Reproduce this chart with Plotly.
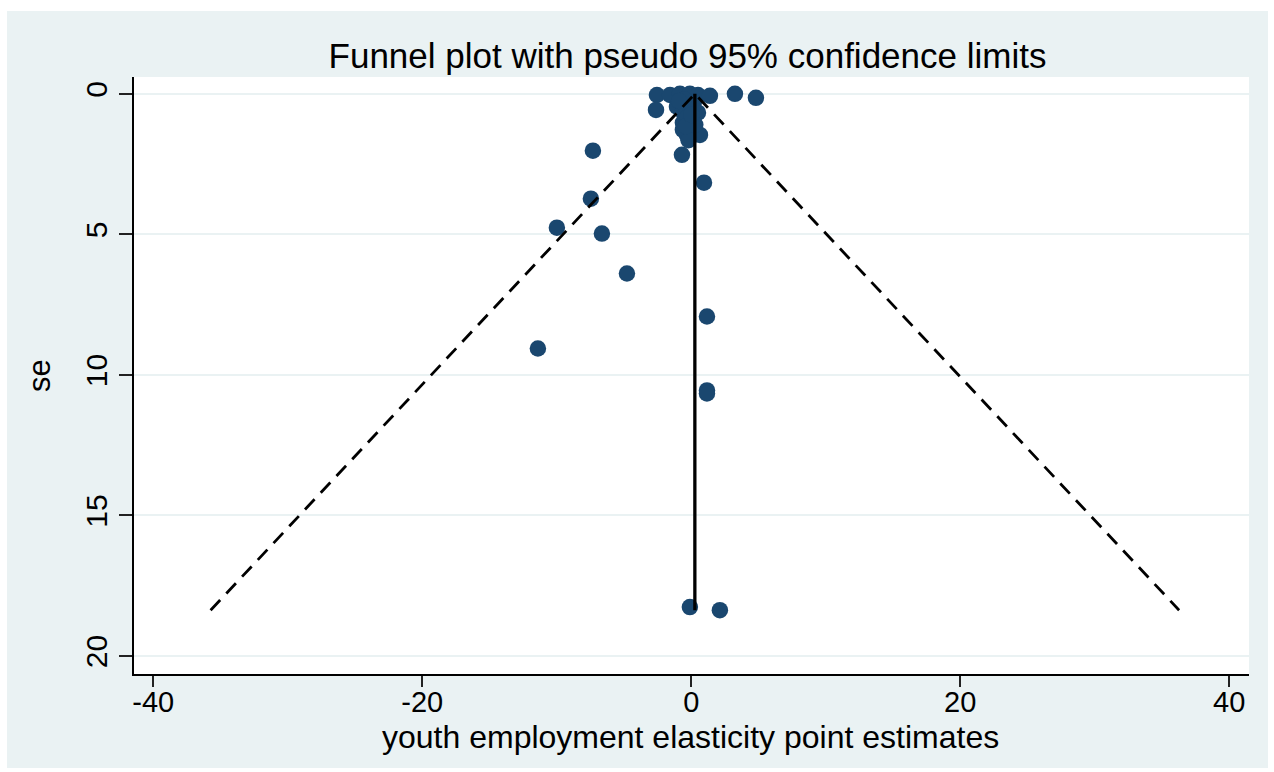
import plotly.graph_objects as go

# Point estimates (youth employment elasticities) and their standard errors
estimates = [-2.55, -2.62, -1.58, -0.84, -0.10, 0.50, 1.39, 3.25, 4.81,
             -1.06, -0.62, 0.50, -0.62, -0.62, -0.32, 0.65, -0.69,
             -7.31, 0.95, -7.46, -9.99, -6.64, -4.78, 1.17, -11.40,
             1.17, 1.17, -0.10, 2.13, -0.30, 0.20, -0.50,
             -0.90, 0.10, -0.20, 0.30, -0.40, 0.00]
std_errors = [0.04, 0.57, 0.04, 0.00, 0.00, 0.04, 0.07, 0.00, 0.14,
              0.46, 0.64, 0.67, 1.03, 1.28, 1.46, 1.46, 2.17,
              2.02, 3.16, 3.73, 4.76, 4.97, 6.39, 7.92, 9.06,
              10.55, 10.66, 18.26, 18.37, 0.85, 0.30, 0.20,
              0.25, 0.45, 1.65, 1.10, 1.15, 0.75]
pooled_estimate = 0.27
z95 = 1.96

x_ticks = [-40, -20, 0, 20, 40]
y_ticks = [0, 5, 10, 15, 20]

title_text = "Funnel plot with pseudo 95% confidence limits"
x_title = "youth employment elasticity point estimates"
y_title = "se"

max_se = max(std_errors)
FONT = "Liberation Sans, Arial, sans-serif"
NAVY = "#1A476F"
BG = "#EAF2F3"

fig = go.Figure()
fig.add_trace(go.Scatter(
    x=estimates, y=std_errors, mode="markers",
    marker=dict(color=NAVY, size=16.5, line=dict(width=0)),
    showlegend=False, hoverinfo="x+y"))
# funnel limits
fig.add_trace(go.Scatter(
    x=[pooled_estimate - z95 * max_se, pooled_estimate, pooled_estimate + z95 * max_se],
    y=[max_se, 0, max_se], mode="lines",
    line=dict(color="black", width=2.8, dash="14px,9px"),
    showlegend=False, hoverinfo="skip"))
# pooled estimate line
fig.add_trace(go.Scatter(
    x=[pooled_estimate, pooled_estimate], y=[0, max_se], mode="lines",
    line=dict(color="black", width=3.3),
    showlegend=False, hoverinfo="skip"))

W, H = 1274, 772
# white outer border strips
for (x0, x1, y0, y1) in [(0, 7, 0, H), (1268, W, 0, H), (0, W, 0, 11), (0, W, 768, H)]:
    fig.add_shape(type="rect", xref="paper", yref="paper", layer="below",
                  x0=(x0 - 134) / 1115, x1=(x1 - 134) / 1115,
                  y0=(674 - y1) / 597, y1=(674 - y0) / 597,
                  fillcolor="white", line=dict(width=0))

# x axis title placed precisely
fig.add_annotation(text=x_title, xref="paper", yref="paper",
                   x=(690 - 134) / 1115, y=(674 - 737) / 597,
                   xanchor="center", yanchor="middle", showarrow=False,
                   font=dict(size=32, family=FONT, color="black"))

fig.update_layout(
    width=W, height=H,
    margin=dict(l=134, r=25, t=77, b=98),
    paper_bgcolor=BG, plot_bgcolor="white",
    font=dict(family=FONT, color="black", size=30),
    title=dict(text=title_text, x=687.5 / W, xref="container", xanchor="center",
               y=1 - 56 / H, yref="container", yanchor="middle",
               font=dict(size=35, family=FONT, color="black")),
    showlegend=False,
)
fig.update_xaxes(
    range=[-41.43, 41.47], tickvals=x_ticks, ticktext=[str(v) for v in x_ticks],
    showgrid=False, zeroline=False, showline=True, linecolor="black", linewidth=1.5,
    ticks="outside", ticklen=11, tickwidth=1.5, tickcolor="#222222",
    ticklabelstandoff=-10,
    tickfont=dict(size=29, family=FONT))
fig.update_yaxes(
    range=[20.64, -0.6], tickvals=y_ticks, ticktext=[str(v) for v in y_ticks],
    showgrid=True, gridcolor=BG, gridwidth=2, zeroline=False,
    showline=True, linecolor="black", linewidth=1.5,
    ticks="outside", ticklen=13, tickwidth=1.5, tickcolor="#222222",
    tickangle=-90, tickfont=dict(size=30, family=FONT),
    title=dict(text=y_title, font=dict(size=31, family=FONT), standoff=20))

fig.write_html("out.html")
